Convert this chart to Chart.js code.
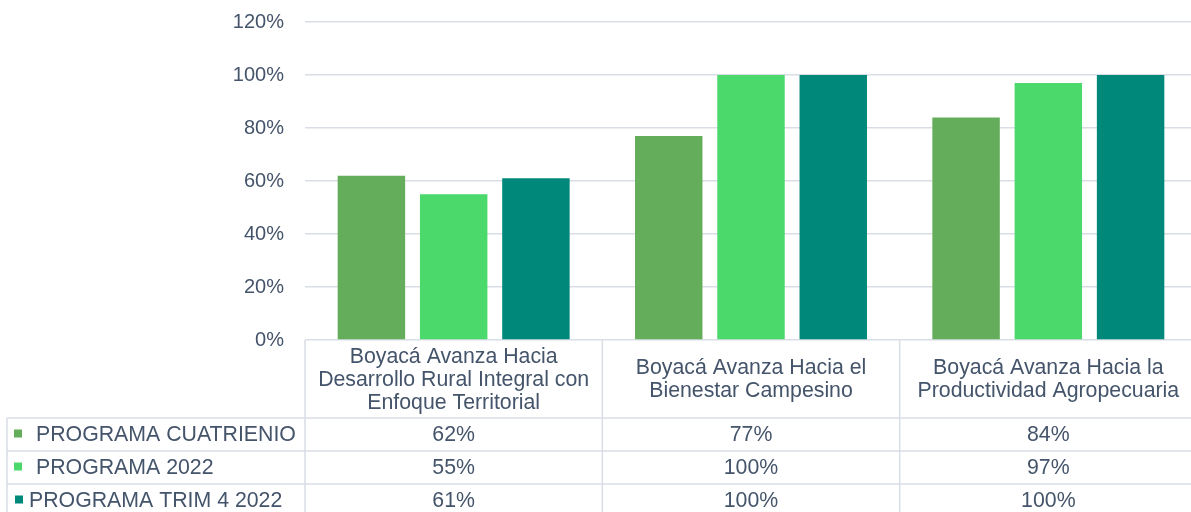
<!DOCTYPE html>
<html>
<head>
<meta charset="utf-8">
<script src="https://cdn.jsdelivr.net/npm/chart.js@4/dist/chart.umd.min.js"></script>
<style>
html,body{margin:0;padding:0;background:#fff;overflow:hidden;}
#wrap{width:1197px;height:512px;position:relative;}
</style>
</head>
<body>
<div id="wrap"><canvas id="c"></canvas></div>
<script>
const categories = [
  ["Boyacá Avanza Hacia", "Desarrollo Rural Integral con", "Enfoque Territorial"],
  ["Boyacá Avanza Hacia el", "Bienestar Campesino"],
  ["Boyacá Avanza Hacia la", "Productividad Agropecuaria"]
];
const seriesNames = ["PROGRAMA CUATRIENIO", "PROGRAMA 2022", "PROGRAMA TRIM 4 2022"];
const cuatrienio = [62, 77, 84];
const programa2022 = [55, 100, 97];
const trim4 = [61, 100, 100];
const yTicks = [0, 20, 40, 60, 80, 100, 120];
const colors = ["#64AD5A", "#4CD96C", "#00897A"];

const TEXT = "#44546A";
const LINE = "#D9DEE6";
const FONT = "Liberation Sans, Arial, sans-serif";

const tablePlugin = {
  id: "dataTable",
  afterDraw(chart) {
    const ctx = chart.ctx;
    const area = chart.chartArea;
    const xs = chart.scales.x;
    const n = categories.length;
    const colW = (area.right - area.left) / n;
    const top = area.bottom;
    const headerH = 78;
    const rowH = 33;
    const tableLeft = 7;
    const rowsTop = top + headerH;
    const seriesData = chart.data.datasets.map(d => d.data);
    ctx.save();
    ctx.strokeStyle = LINE;
    ctx.lineWidth = 1.5;
    for (let i = 0; i <= n; i++) {
      const x = area.left + i * colW;
      ctx.beginPath();
      ctx.moveTo(x, top);
      ctx.lineTo(x, chart.height);
      ctx.stroke();
    }
    ctx.beginPath();
    ctx.moveTo(tableLeft, rowsTop);
    ctx.lineTo(tableLeft, chart.height);
    ctx.stroke();
    for (let r = 0; r < seriesData.length; r++) {
      const y = rowsTop + r * rowH;
      ctx.beginPath();
      ctx.moveTo(tableLeft, y);
      ctx.lineTo(area.right, y);
      ctx.stroke();
    }
    ctx.fillStyle = TEXT;
    ctx.font = "21.3px " + FONT;
    ctx.textAlign = "center";
    ctx.textBaseline = "middle";
    const lh = 23;
    categories.forEach((lines, i) => {
      const cx = xs.getPixelForValue(i);
      const cy = top + headerH / 2 + 1;
      const start = cy - (lines.length - 1) * lh / 2;
      lines.forEach((t, k) => ctx.fillText(t, cx, start + k * lh));
    });
    seriesData.forEach((vals, r) => {
      const cy = rowsTop + r * rowH + rowH / 2 + 1;
      vals.forEach((v, i) => {
        ctx.textAlign = "center";
        ctx.fillText(v + "%", xs.getPixelForValue(i), cy);
      });
      const last = r === seriesData.length - 1;
      const sx = last ? 15 : 14;
      const tx = last ? 29 : 36;
      ctx.fillStyle = colors[r];
      ctx.fillRect(sx, cy - 6, 8, 8);
      ctx.fillStyle = TEXT;
      ctx.textAlign = "left";
      ctx.fillText(seriesNames[r], tx, cy);
    });
    ctx.restore();
  }
};

new Chart(document.getElementById("c"), {
  type: "bar",
  data: {
    labels: categories,
    datasets: [
      { label: seriesNames[0], data: cuatrienio, backgroundColor: colors[0] },
      { label: seriesNames[1], data: programa2022, backgroundColor: colors[1] },
      { label: seriesNames[2], data: trim4, backgroundColor: colors[2] }
    ]
  },
  options: {
    responsive: true,
    maintainAspectRatio: false,
    animation: false,
    layout: { padding: { top: 22, left: 0, right: 0, bottom: 172 } },
    datasets: { bar: { categoryPercentage: 0.83, barPercentage: 0.82 } },
    plugins: { legend: { display: false }, tooltip: { enabled: false } },
    scales: {
      x: { display: false },
      y: {
        min: 0, max: 120,
        afterBuildTicks(scale) { scale.ticks = yTicks.map(v => ({ value: v })); },
        afterFit(scale) { scale.width = 305; scale.paddingTop = 0; scale.paddingBottom = 0; },
        ticks: {
          callback: v => v + "%",
          color: TEXT,
          font: { family: FONT, size: 20 },
          padding: 21
        },
        grid: { color: LINE, lineWidth: 1.5, drawTicks: false },
        border: { display: false }
      }
    }
  },
  plugins: [tablePlugin]
});
</script>
</body>
</html>
